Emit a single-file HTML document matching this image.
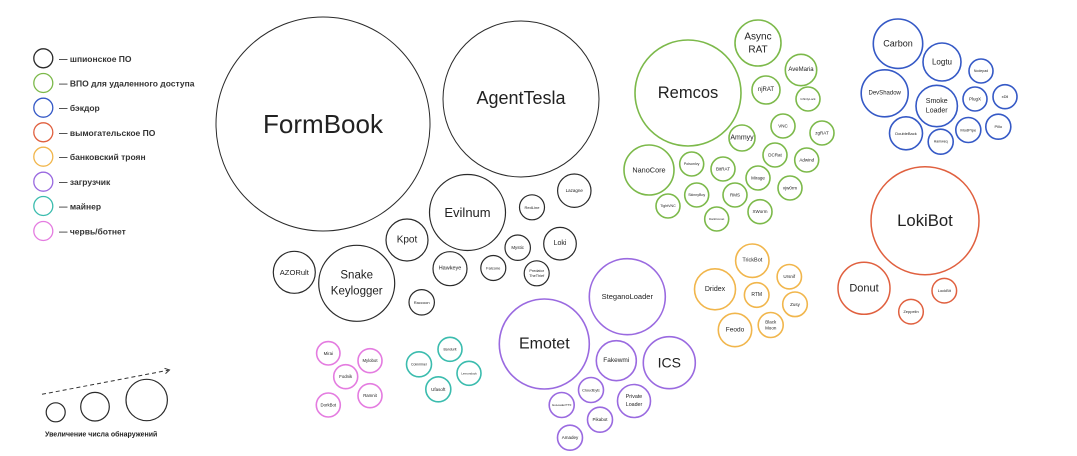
<!DOCTYPE html>
<html>
<head>
<meta charset="utf-8">
<style>
html,body{margin:0;padding:0;background:#fff;}
svg{display:block;}
text{font-family:"Liberation Sans","DejaVu Sans",sans-serif;fill:#222;text-anchor:middle;dominant-baseline:central;}
.k{fill:none;stroke:#2a2a2a;stroke-width:1.2;}
.g{fill:none;stroke:#7cb94a;stroke-width:1.6;}
.b{fill:none;stroke:#3559c6;stroke-width:1.6;}
.r{fill:none;stroke:#e0603f;stroke-width:1.5;}
.o{fill:none;stroke:#f1b64c;stroke-width:1.6;}
.p{fill:none;stroke:#9a6ae0;stroke-width:1.6;}
.t{fill:none;stroke:#3bbcae;stroke-width:1.6;}
.m{fill:none;stroke:#e47ce0;stroke-width:1.6;}
.lg{text-anchor:start;font-weight:bold;font-size:8.5px;fill:#333;}
</style>
</head>
<body>
<svg width="1077" height="456" viewBox="0 0 1077 456" xmlns="http://www.w3.org/2000/svg">
<rect width="1077" height="456" fill="#fff"/>

<!-- Legend -->
<circle class="k" cx="43.3" cy="58.3" r="9.5" style="stroke-width:1.3"/>
<circle class="g" cx="43.3" cy="83" r="9.5" style="stroke-width:1.3"/>
<circle class="b" cx="43.3" cy="107.7" r="9.5" style="stroke-width:1.3"/>
<circle class="r" cx="43.3" cy="132.3" r="9.5" style="stroke-width:1.3"/>
<circle class="o" cx="43.3" cy="156.7" r="9.5" style="stroke-width:1.3"/>
<circle class="p" cx="43.3" cy="181.7" r="9.5" style="stroke-width:1.3"/>
<circle class="t" cx="43.3" cy="206" r="9.5" style="stroke-width:1.3"/>
<circle class="m" cx="43.3" cy="231" r="9.5" style="stroke-width:1.3"/>
<text class="lg" x="59" y="58.8">— шпионское ПО</text>
<text class="lg" x="59" y="83.5">— ВПО для удаленного доступа</text>
<text class="lg" x="59" y="108.2">— бэкдор</text>
<text class="lg" x="59" y="132.8">— вымогательское ПО</text>
<text class="lg" x="59" y="157.2">— банковский троян</text>
<text class="lg" x="59" y="182.2">— загрузчик</text>
<text class="lg" x="59" y="206.5">— майнер</text>
<text class="lg" x="59" y="231.5">— червь/ботнет</text>

<!-- Size legend -->
<line x1="42" y1="394.3" x2="168" y2="370.3" stroke="#333" stroke-width="1" stroke-dasharray="4 3"/>
<polyline points="164.5,368.3 169.5,370 165.5,373.6" fill="none" stroke="#333" stroke-width="1"/>
<circle class="k" cx="55.7" cy="412.3" r="9.5"/>
<circle class="k" cx="95" cy="406.7" r="14.3"/>
<circle class="k" cx="146.7" cy="400" r="20.7"/>
<text x="45" y="435" style="text-anchor:start;font-size:7px;font-weight:bold;fill:#222">Увеличение числа обнаружений</text>

<!-- Black: spyware -->
<circle class="k" cx="323" cy="124" r="107" style="stroke-width:1"/>
<text x="323" y="124" style="font-size:26px">FormBook</text>
<circle class="k" cx="521" cy="99" r="78" style="stroke-width:1"/>
<text x="521" y="98" style="font-size:18px">AgentTesla</text>
<circle class="k" cx="467.5" cy="212.5" r="38"/>
<text x="467.5" y="212.5" style="font-size:13px">Evilnum</text>
<circle class="k" cx="407" cy="240" r="21"/>
<text x="407" y="240" style="font-size:10px">Kpot</text>
<circle class="k" cx="356.7" cy="283.3" r="38"/>
<text x="356.7" y="275.5" style="font-size:11.5px">Snake</text>
<text x="356.7" y="291.5" style="font-size:11.5px">Keylogger</text>
<circle class="k" cx="294.3" cy="272.3" r="21"/>
<text x="294.3" y="272.3" style="font-size:7.6px">AZORult</text>
<circle class="k" cx="450" cy="268.7" r="17"/>
<text x="450" y="268.7" style="font-size:5.5px">Hawkeye</text>
<circle class="k" cx="421.7" cy="302.3" r="12.7"/>
<text x="421.7" y="302.3" style="font-size:4px">Raccoon</text>
<circle class="k" cx="493.3" cy="268" r="12.5"/>
<text x="493.3" y="268" style="font-size:4px">Falcone</text>
<circle class="k" cx="517.7" cy="247.7" r="12.7"/>
<text x="517.7" y="247.7" style="font-size:4.5px">Mystic</text>
<circle class="k" cx="532" cy="207.3" r="12.5"/>
<text x="532" y="207.3" style="font-size:4px">RedLine</text>
<circle class="k" cx="574.3" cy="190.7" r="16.7"/>
<text x="574.3" y="190.7" style="font-size:4.5px">Lazagne</text>
<circle class="k" cx="560" cy="243.7" r="16.3"/>
<text x="560" y="243.7" style="font-size:7px">Loki</text>
<circle class="k" cx="536.7" cy="273.3" r="12.5"/>
<text x="536.7" y="270.8" style="font-size:3.8px">Predator</text>
<text x="536.7" y="276" style="font-size:3.8px">TheThief</text>

<!-- Green: RAT -->
<circle class="g" cx="688" cy="93" r="53"/>
<text x="688" y="93" style="font-size:16.5px">Remcos</text>
<circle class="g" cx="758" cy="43" r="23"/>
<text x="758" y="37" style="font-size:10px">Async</text>
<text x="758" y="50" style="font-size:10px">RAT</text>
<circle class="g" cx="801" cy="70" r="15.7"/>
<text x="801" y="70" style="font-size:6px">AveMaria</text>
<circle class="g" cx="766" cy="90" r="14"/>
<text x="766" y="90" style="font-size:6px">njRAT</text>
<circle class="g" cx="808" cy="99" r="12"/>
<text x="808" y="99" style="font-size:3px">InfinityLock</text>
<circle class="g" cx="783" cy="126" r="12"/>
<text x="783" y="126" style="font-size:4.5px">VNC</text>
<circle class="g" cx="822" cy="133" r="12"/>
<text x="822" y="133" style="font-size:4.5px">zgRAT</text>
<circle class="g" cx="742" cy="138" r="13"/>
<text x="742" y="138" style="font-size:7px">Ammyy</text>
<circle class="g" cx="775" cy="155" r="12"/>
<text x="775" y="155" style="font-size:4.5px">DCRat</text>
<circle class="g" cx="806.7" cy="160" r="12"/>
<text x="806.7" y="160" style="font-size:4.5px">Adwind</text>
<circle class="g" cx="649" cy="170" r="25"/>
<text x="649" y="170" style="font-size:7.3px">NanoCore</text>
<circle class="g" cx="691.7" cy="164" r="12"/>
<text x="691.7" y="164" style="font-size:3.6px">PoisonIvy</text>
<circle class="g" cx="723" cy="169" r="12"/>
<text x="723" y="169" style="font-size:4.5px">BitRAT</text>
<circle class="g" cx="758" cy="178" r="12"/>
<text x="758" y="178" style="font-size:4.5px">Mirage</text>
<circle class="g" cx="790" cy="188" r="12"/>
<text x="790" y="188" style="font-size:4.5px">vjw0rm</text>
<circle class="g" cx="696.7" cy="195" r="12"/>
<text x="696.7" y="195" style="font-size:3.6px">SkinnyBoy</text>
<circle class="g" cx="735" cy="195" r="12"/>
<text x="735" y="195" style="font-size:4.5px">RMS</text>
<circle class="g" cx="668" cy="206" r="12"/>
<text x="668" y="206" style="font-size:3.6px">TightVNC</text>
<circle class="g" cx="760" cy="211.7" r="12"/>
<text x="760" y="211.7" style="font-size:4.5px">XWorm</text>
<circle class="g" cx="716.7" cy="219" r="12"/>
<text x="716.7" y="219" style="font-size:3px">DarkComet</text>

<!-- Blue: backdoor -->
<circle class="b" cx="898" cy="43.7" r="24.7"/>
<text x="898" y="43.7" style="font-size:9px">Carbon</text>
<circle class="b" cx="942" cy="62" r="19"/>
<text x="942" y="62" style="font-size:8px">Logtu</text>
<circle class="b" cx="884.7" cy="93.3" r="23.5"/>
<text x="884.7" y="93.3" style="font-size:6px">DevShadow</text>
<circle class="b" cx="981" cy="71" r="12"/>
<text x="981" y="71" style="font-size:3.5px">Nodepad</text>
<circle class="b" cx="936.7" cy="106" r="20.7"/>
<text x="936.7" y="101.5" style="font-size:7px">Smoke</text>
<text x="936.7" y="111" style="font-size:7px">Loader</text>
<circle class="b" cx="975" cy="99" r="12"/>
<text x="975" y="99" style="font-size:4.5px">PlugX</text>
<circle class="b" cx="1005" cy="96.7" r="12"/>
<text x="1005" y="96.7" style="font-size:4px">xDll</text>
<circle class="b" cx="906" cy="133.3" r="16.5"/>
<text x="906" y="133.3" style="font-size:4px">DoubleBack</text>
<circle class="b" cx="940.7" cy="141.7" r="12.5"/>
<text x="940.7" y="141.7" style="font-size:3.5px">Hamweq</text>
<circle class="b" cx="968.3" cy="130" r="12.5"/>
<text x="968.3" y="130" style="font-size:4px">ModPipe</text>
<circle class="b" cx="998.3" cy="126.7" r="12.5"/>
<text x="998.3" y="126.7" style="font-size:4px">Pillo</text>

<!-- Red: ransomware -->
<circle class="r" cx="925" cy="220.7" r="54"/>
<text x="925" y="220.7" style="font-size:16.7px">LokiBot</text>
<circle class="r" cx="864" cy="288.3" r="26"/>
<text x="864" y="288.3" style="font-size:11px">Donut</text>
<circle class="r" cx="944.3" cy="290.7" r="12.3"/>
<text x="944.3" y="290.7" style="font-size:4px">LockBit</text>
<circle class="r" cx="911" cy="311.7" r="12.3"/>
<text x="911" y="311.7" style="font-size:4px">Zeppelin</text>

<!-- Orange: banking -->
<circle class="o" cx="752.3" cy="260.7" r="16.7"/>
<text x="752.3" y="260.7" style="font-size:5.5px">TrickBot</text>
<circle class="o" cx="715" cy="289.3" r="20.5"/>
<text x="715" y="289.3" style="font-size:7px">Dridex</text>
<circle class="o" cx="789.3" cy="276.7" r="12.2"/>
<text x="789.3" y="276.7" style="font-size:4.5px">Ursnif</text>
<circle class="o" cx="756.7" cy="295" r="12.3"/>
<text x="756.7" y="295" style="font-size:5px">RTM</text>
<circle class="o" cx="795" cy="304.3" r="12.3"/>
<text x="795" y="304.3" style="font-size:4.5px">Zusy</text>
<circle class="o" cx="735" cy="330" r="16.7"/>
<text x="735" y="330" style="font-size:6.5px">Feodo</text>
<circle class="o" cx="770.7" cy="325" r="12.5"/>
<text x="770.7" y="322" style="font-size:4.5px">Black</text>
<text x="770.7" y="328" style="font-size:4.5px">Moon</text>

<!-- Purple: loaders -->
<circle class="p" cx="544.3" cy="344" r="45"/>
<text x="544.3" y="344" style="font-size:16px">Emotet</text>
<circle class="p" cx="627.3" cy="296.7" r="38"/>
<text x="627.3" y="296.7" style="font-size:7.5px">SteganoLoader</text>
<circle class="p" cx="669.3" cy="362.7" r="26"/>
<text x="669.3" y="362.7" style="font-size:14px">ICS</text>
<circle class="p" cx="616.3" cy="360.7" r="20"/>
<text x="616.3" y="360.7" style="font-size:6.5px">Fakewmi</text>
<circle class="p" cx="591" cy="390" r="12.5"/>
<text x="591" y="390" style="font-size:4px">CloudEyE</text>
<circle class="p" cx="634" cy="401" r="16.5"/>
<text x="634" y="397" style="font-size:5.3px">Private</text>
<text x="634" y="405" style="font-size:5.3px">Loader</text>
<circle class="p" cx="561.7" cy="405" r="12.5"/>
<text x="561.7" y="405" style="font-size:3px">GuLoader/TTF</text>
<circle class="p" cx="600" cy="419.7" r="12.5"/>
<text x="600" y="419.7" style="font-size:4.5px">Pikabot</text>
<circle class="p" cx="570" cy="437.7" r="12.5"/>
<text x="570" y="437.7" style="font-size:4.5px">Amadey</text>

<!-- Pink: worms/botnets -->
<circle class="m" cx="328.3" cy="353.3" r="11.7"/>
<text x="328.3" y="353.3" style="font-size:4.3px">Mirai</text>
<circle class="m" cx="370" cy="360.7" r="12"/>
<text x="370" y="360.7" style="font-size:4.3px">Mylobot</text>
<circle class="m" cx="345.7" cy="376.7" r="12"/>
<text x="345.7" y="376.7" style="font-size:4.3px">Fodnik</text>
<circle class="m" cx="370" cy="395.7" r="12"/>
<text x="370" y="395.7" style="font-size:4.3px">Ramnit</text>
<circle class="m" cx="328.3" cy="405" r="12"/>
<text x="328.3" y="405" style="font-size:4.3px">DorkBot</text>

<!-- Teal: miners -->
<circle class="t" cx="419" cy="364.3" r="12.5"/>
<text x="419" y="364.3" style="font-size:3.5px">Coinminer</text>
<circle class="t" cx="450" cy="349.3" r="12"/>
<text x="450" y="349.3" style="font-size:3.5px">Bandurit</text>
<circle class="t" cx="469" cy="373.3" r="12"/>
<text x="469" y="373.3" style="font-size:3px">Lemonduck</text>
<circle class="t" cx="438.3" cy="389.3" r="12.5"/>
<text x="438.3" y="389.3" style="font-size:4.5px">Ufasoft</text>
</svg>
</body>
</html>
